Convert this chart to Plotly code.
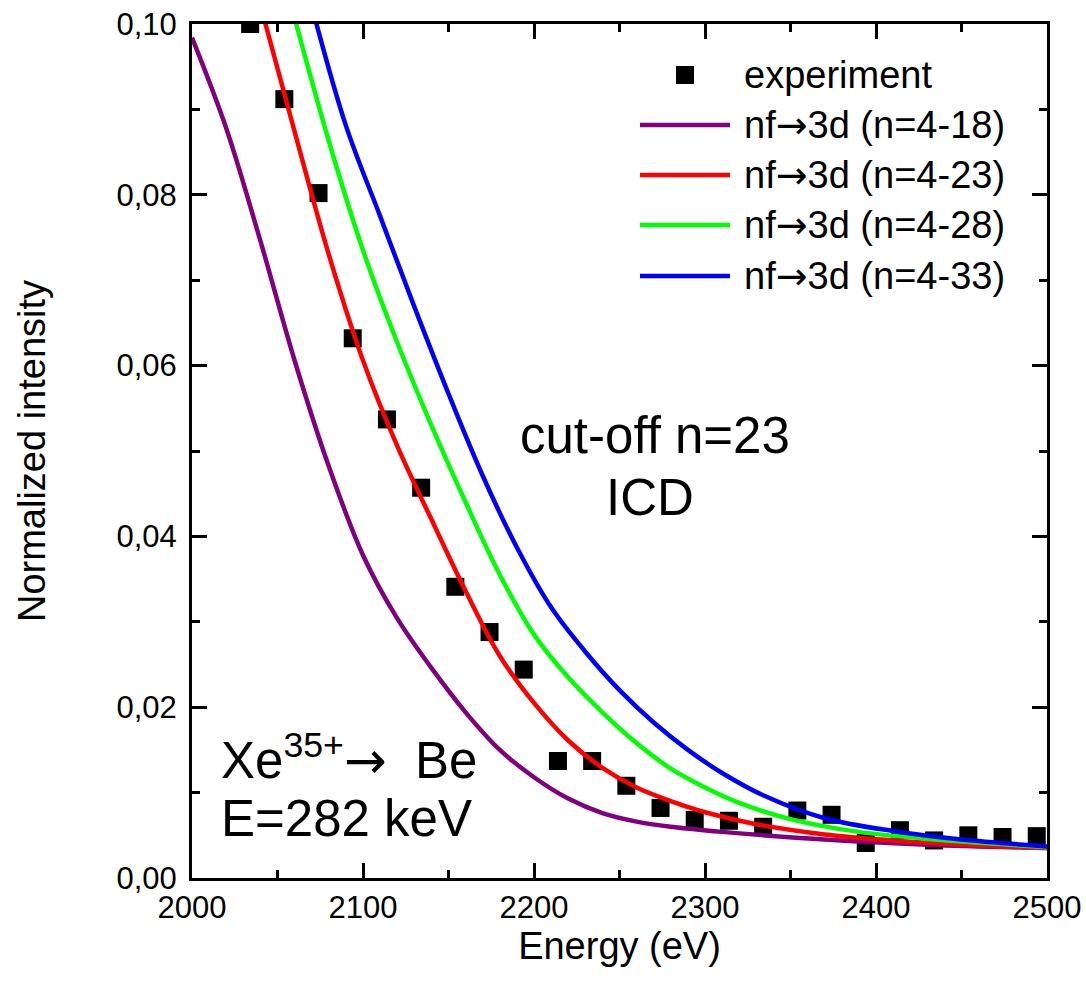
import plotly.graph_objects as go

# ---- measured spectrum ----
energy_exp = [2034, 2054, 2074, 2094, 2114, 2134, 2154, 2174, 2194, 2214, 2234, 2254,
              2274, 2294, 2314, 2334, 2354, 2374, 2394, 2414, 2434, 2454, 2474, 2494]
intensity_exp = [0.1000, 0.0912, 0.0802, 0.0632, 0.0537, 0.0457, 0.0341, 0.0288, 0.0244,
                 0.0137, 0.0137, 0.0108, 0.0082, 0.0068, 0.0067, 0.0060, 0.0079, 0.0074,
                 0.0041, 0.0056, 0.0044, 0.0050, 0.0048, 0.0049]

# ---- calculated nf -> 3d profiles for several cut-off n ----
energy_n18 = [2000, 2020, 2040, 2060, 2080, 2100, 2120, 2140, 2160, 2180, 2200, 2220,
              2240, 2260, 2280, 2310, 2370, 2430, 2500]
intensity_n18 = [0.0984, 0.0878, 0.0746, 0.0606, 0.0482, 0.0378, 0.0304, 0.0246, 0.0194,
                 0.0150, 0.0118, 0.0093, 0.0076, 0.0066, 0.0060, 0.0054, 0.0045, 0.0039,
                 0.0035]

energy_n23 = [2040, 2060, 2080, 2100, 2120, 2140, 2160, 2180, 2200, 2220, 2240, 2260,
              2280, 2300, 2330, 2370, 2410, 2450, 2500]
intensity_n23 = [0.1022, 0.0874, 0.0730, 0.0606, 0.0506, 0.0420, 0.0336, 0.0260, 0.0205,
                 0.0161, 0.0129, 0.0106, 0.0090, 0.0077, 0.0063, 0.0051, 0.0044, 0.0039,
                 0.0035]

energy_n28 = [2060, 2080, 2100, 2120, 2140, 2160, 2180, 2200, 2220, 2240, 2260, 2280,
              2300, 2320, 2350, 2390, 2430, 2470, 2500]
intensity_n28 = [0.1007, 0.0863, 0.0735, 0.0627, 0.0530, 0.0440, 0.0355, 0.0285, 0.0235,
                 0.0194, 0.0158, 0.0128, 0.0106, 0.0088, 0.0069, 0.0054, 0.0046, 0.0040,
                 0.0036]

energy_n33 = [2070, 2090, 2110, 2130, 2150, 2170, 2190, 2210, 2230, 2250, 2270, 2290,
              2310, 2335, 2370, 2410, 2450, 2500]
intensity_n33 = [0.1021, 0.0881, 0.0775, 0.0669, 0.0567, 0.0471, 0.0387, 0.0317, 0.0265,
                 0.0220, 0.0182, 0.0150, 0.0123, 0.0096, 0.0070, 0.0055, 0.0045, 0.0037]

ARROW = '<span style="font-family:DejaVu Sans">→</span>'
curve_names = [f"nf{ARROW}3d (n=4-{n})" for n in (18, 23, 28, 33)]
curve_colors = ["#800080", "#ff0000", "#00ff00", "#0000ff"]
curve_x = [energy_n18, energy_n23, energy_n28, energy_n33]
curve_y = [intensity_n18, intensity_n23, intensity_n28, intensity_n33]

FONT = "Liberation Sans, Arial, Helvetica, sans-serif"

fig = go.Figure()
fig.add_trace(go.Scatter(
    x=energy_exp, y=intensity_exp, mode="markers", name="experiment",
    marker=dict(symbol="square", size=18, color="black", line=dict(width=0)),
    showlegend=False,
))
for xs, ys, nm, col in zip(curve_x, curve_y, curve_names, curve_colors):
    fig.add_trace(go.Scatter(
        x=xs, y=ys, mode="lines", name=nm,
        line=dict(color=col, width=4.5, shape="spline", smoothing=1.0),
        showlegend=False,
    ))

# ---- plot-area geometry (pixels) ----
W, H = 1086, 996
L, R, T, B = 192, 39, 24, 118
pw, ph = W - L - R, H - T - B


def px(xp):
    return (xp - L) / pw


def py(yp):
    return (H - B - yp) / ph


# ---- legend box drawn in the upper right ----
shapes = []
annotations = []
rows = [75, 125, 175, 225, 276]
sx0, sx1, tx = 640, 730, 742
legend_font = dict(size=38, family=FONT, color="black")
shapes.append(dict(type="rect", xref="paper", yref="paper",
                   x0=px(685 - 9), x1=px(685 + 9), y0=py(rows[0] + 9), y1=py(rows[0] - 9),
                   fillcolor="black", line=dict(width=0)))
annotations.append(dict(text="experiment", xref="paper", yref="paper",
                        x=px(tx), y=py(rows[0]), xanchor="left", yanchor="middle",
                        showarrow=False, font=legend_font))
for r, nm, col in zip(rows[1:], curve_names, curve_colors):
    shapes.append(dict(type="line", xref="paper", yref="paper",
                       x0=px(sx0), x1=px(sx1), y0=py(r), y1=py(r),
                       line=dict(color=col, width=4.5)))
    annotations.append(dict(text=nm, xref="paper", yref="paper",
                            x=px(tx), y=py(r), xanchor="left", yanchor="middle",
                            showarrow=False, font=legend_font))

# ---- text labels inside the plot ----
big = dict(size=51, family=FONT, color="black")
annotations += [
    dict(text="cut-off n=23", xref="paper", yref="paper", x=px(655), y=py(435),
         xanchor="center", yanchor="middle", showarrow=False, font=big),
    dict(text="ICD", xref="paper", yref="paper", x=px(650), y=py(498),
         xanchor="center", yanchor="middle", showarrow=False, font=big),
    dict(text=f"Xe<sup>35+</sup>{ARROW}&nbsp; Be", xref="paper", yref="paper", x=px(219),
         y=py(757), xanchor="left", yanchor="middle", showarrow=False, font=big),
    dict(text="E=282 keV", xref="paper", yref="paper", x=px(219), y=py(818),
         xanchor="left", yanchor="middle", showarrow=False, font=big),
]

axis_common = dict(
    showline=True, linewidth=3, linecolor="black", mirror="allticks",
    ticks="inside", ticklen=15, tickwidth=2.5, tickcolor="black",
    showgrid=False, zeroline=False,
    tickfont=dict(size=31, family=FONT, color="black"),
)

fig.update_layout(
    width=W, height=H,
    margin=dict(l=L, r=R, t=T, b=B, autoexpand=False),
    paper_bgcolor="white", plot_bgcolor="white",
    separators=",.",
    font=dict(family=FONT, color="black"),
    shapes=shapes,
    annotations=annotations,
    xaxis=dict(
        range=[2000, 2500], dtick=100, tick0=2000,
        minor=dict(dtick=50, ticks="inside", ticklen=8, tickwidth=2.5, tickcolor="black"),
        ticklabelstandoff=0,
        title=dict(text="Energy (eV)", font=dict(size=38, family=FONT), standoff=0),
        **axis_common,
    ),
    yaxis=dict(
        range=[0, 0.1], dtick=0.02, tick0=0, tickformat=".2f",
        minor=dict(dtick=0.01, ticks="inside", ticklen=8, tickwidth=2.5, tickcolor="black"),
        ticklabelstandoff=6,
        title=dict(text="Normalized intensity", font=dict(size=38, family=FONT), standoff=60),
        **axis_common,
    ),
)

fig.write_html("out.html")
